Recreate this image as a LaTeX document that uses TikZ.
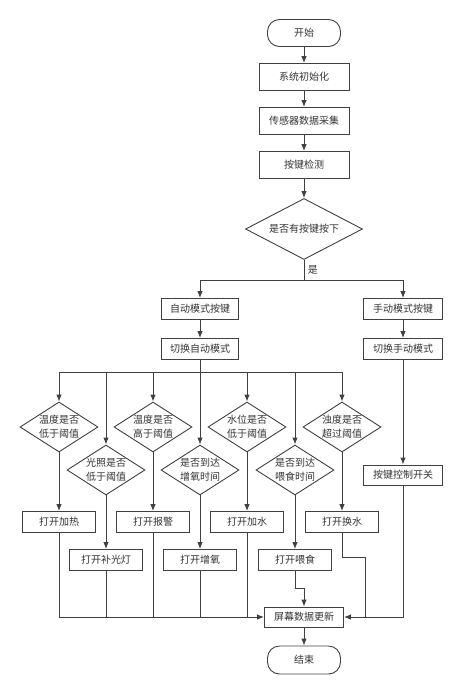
\documentclass[tikz,border=0pt]{standalone}
\usepackage{fontspec}
\usepackage{tikz}
\usetikzlibrary{arrows.meta,shapes.geometric}
\newfontfamily\cjk{Noto Sans CJK SC}

\begin{document}
\begin{tikzpicture}[
  x=1pt, y=-1pt,
  font=\cjk\fontsize{10}{14}\selectfont,
  >={Latex[length=7pt,width=5.5pt]},
  wire/.style={draw=black!75, line width=.9pt},
  terminal/.style={wire, rounded corners=12pt, minimum width=73pt, minimum height=27pt, text=black!80},
  process/.style={wire, minimum width=73pt, minimum height=21pt, inner sep=0pt, text=black!80},
  decision/.style={wire, diamond, aspect=1.56, inner sep=0pt, minimum width=78pt, minimum height=50pt, align=center, text=black!80}
]
  \useasboundingbox (0,0) rectangle (463,694);

  % main column
  \node[terminal] (start) at (304,33) {开始};
  \node[process, minimum width=90pt, minimum height=27pt] (init) at (304,77) {系统初始化};
  \node[process, minimum width=90pt, minimum height=27pt] (sense) at (304,121) {传感器数据采集};
  \node[process, minimum width=90pt, minimum height=27pt] (scan) at (304,165) {按键检测};
  \node[decision, aspect=1.92, minimum width=117pt, minimum height=61pt] (press) at (304,229) {是否有按键按下};
  \coordinate (split) at (304,280);

  % two modes
  \node[process, minimum width=77pt] (auto) at (200,309) {自动模式按键};
  \node[process, minimum width=77pt] (autosw) at (200,349) {切换自动模式};
  \node[process, minimum width=79pt] (manual) at (403,309) {手动模式按键};
  \node[process, minimum width=79pt] (mansw) at (403,349) {切换手动模式};
  \node[process, minimum width=79pt, minimum height=20pt] (mankey) at (403,475) {按键控制开关};
  \coordinate (bus) at (200,372);

  % checks
  \node[decision] (d1) at (59,427) {温度是否\\低于阈值};
  \node[decision] (d2) at (106,470) {光照是否\\低于阈值};
  \node[decision] (d3) at (153,427) {温度是否\\高于阈值};
  \node[decision] (d4) at (200,470) {是否到达\\增氧时间};
  \node[decision] (d5) at (247,427) {水位是否\\低于阈值};
  \node[decision] (d6) at (295,470) {是否到达\\喂食时间};
  \node[decision] (d7) at (342,427) {浊度是否\\超过阈值};

  \node[process] (a1) at (59,522) {打开加热};
  \node[process] (a2) at (106,560) {打开补光灯};
  \node[process] (a3) at (153,522) {打开报警};
  \node[process] (a4) at (200,560) {打开增氧};
  \node[process] (a5) at (247,522) {打开加水};
  \node[process] (a6) at (295,560) {打开喂食};
  \node[process] (a7) at (342,522) {打开换水};

  \node[process, minimum width=79pt, minimum height=20pt] (update) at (304,617) {屏幕数据更新};
  \node[terminal, minimum height=28pt] (stop) at (304,660) {结束};
  \coordinate (rjoin) at (365,617);

  % connectors
  \draw[wire, ->] (start) -- (init);
  \draw[wire, ->] (init) -- (sense);
  \draw[wire, ->] (sense) -- (scan);
  \draw[wire, ->] (scan) -- (press);
  \draw[wire] (press.south) -- node[right, text=black!80] {是} (split);
  \draw[wire, ->] (split) -| (auto);
  \draw[wire, ->] (split) -| (manual);
  \draw[wire, ->] (auto) -- (autosw);
  \draw[wire, ->] (manual) -- (mansw);
  \draw[wire, ->] (mansw) -- (mankey);
  \draw[wire] (autosw.south) -- (bus);
  \foreach \d in {d1,d2,d3,d4,d5,d6,d7}
    {\draw[wire, ->] (bus) -| (\d);}
  \foreach \i in {1,...,7}
    {\draw[wire, ->] (d\i) -- (a\i);}

  \draw[wire, ->] (a1) |- (update);
  \foreach \a in {a2,a3,a4,a5}
    {\draw[wire] (\a) -- (\a |- update);}
  \draw[wire, ->] (a6.south) -- ++(0,17) -| (update);
  \draw[wire] (a7.south) -- ++(0,24) -| (rjoin);
  \draw[wire, ->] (mankey) |- (update);
  \draw[wire, ->] (update) -- (stop);
\end{tikzpicture}
\end{document}
